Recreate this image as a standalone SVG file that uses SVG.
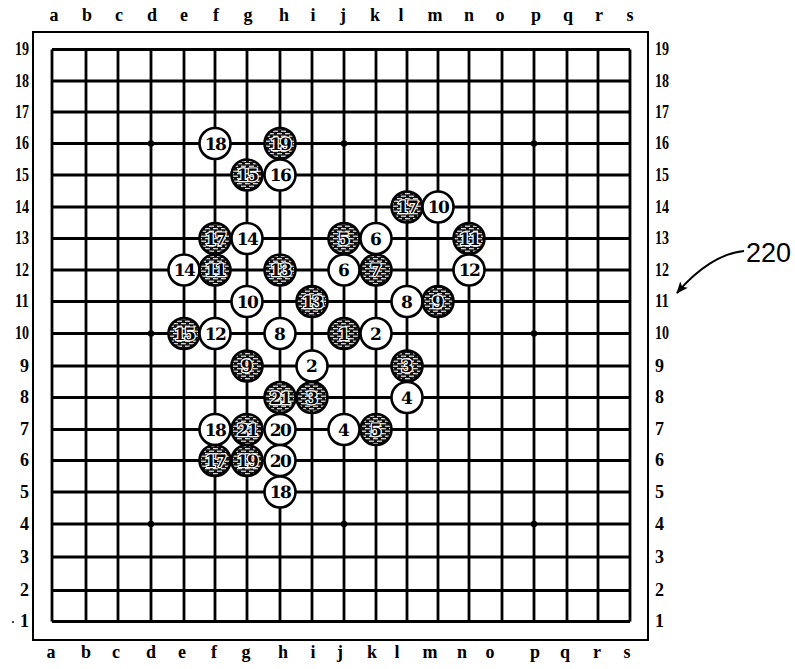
<svg xmlns="http://www.w3.org/2000/svg" width="795" height="669" viewBox="0 0 795 669">
<style>
.frame{fill:none;stroke:#000;stroke-width:2}
.grid line{stroke:#000;stroke-width:2.8}
.hoshi{fill:#000}
.col{font-family:"Liberation Serif",serif;font-weight:bold;font-size:18px;text-anchor:middle;fill:#000}
.rowl{font-family:"Liberation Serif",serif;font-weight:bold;font-size:18px;fill:#000}
.ws circle{fill:#fff;stroke:#000;stroke-width:2.6}
.bs circle{fill:url(#brick);stroke:#000;stroke-width:2.6}
.ws text,.bs text{font-family:"DejaVu Serif",serif;font-weight:bold;font-size:17px;text-anchor:middle;text-rendering:geometricPrecision}
.ws text{fill:#000}
.bs text{fill:#000;stroke:#fff;stroke-width:2.4;paint-order:stroke;stroke-linejoin:round;opacity:0.99}
.two{letter-spacing:-1.5px}
.ref{font-family:"Liberation Sans",sans-serif;font-size:27px;fill:#000}
.lead{fill:none;stroke:#000;stroke-width:2}
</style>
<defs>
<pattern id="brick" patternUnits="userSpaceOnUse" width="8" height="5">
<rect width="8" height="5" fill="#111"/>
<line x1="1" y1="1.2" x2="6" y2="1.2" stroke="#fff" stroke-width="1.1"/>
<line x1="5" y1="3.7" x2="8" y2="3.7" stroke="#fff" stroke-width="1.1"/>
<line x1="0" y1="3.7" x2="2" y2="3.7" stroke="#fff" stroke-width="1.1"/>
</pattern>
<marker id="ah" viewBox="0 0 12 10" refX="11" refY="5" markerWidth="12" markerHeight="10" markerUnits="userSpaceOnUse" orient="auto">
<path d="M0,0 L12,5 L0,10 L3,5 z" fill="#000"/>
</marker>
</defs>
<rect width="795" height="669" fill="#fff"/>
<g id="board">
<rect class="frame" x="33" y="32" width="615" height="608"/>
<g class="grid">
<line x1="52" y1="49.5" x2="52" y2="621.5"/>
<line x1="86" y1="49.5" x2="86" y2="621.5"/>
<line x1="118" y1="49.5" x2="118" y2="621.5"/>
<line x1="151" y1="49.5" x2="151" y2="621.5"/>
<line x1="184" y1="49.5" x2="184" y2="621.5"/>
<line x1="215" y1="49.5" x2="215" y2="621.5"/>
<line x1="247" y1="49.5" x2="247" y2="621.5"/>
<line x1="280" y1="49.5" x2="280" y2="621.5"/>
<line x1="312" y1="49.5" x2="312" y2="621.5"/>
<line x1="344" y1="49.5" x2="344" y2="621.5"/>
<line x1="376" y1="49.5" x2="376" y2="621.5"/>
<line x1="407" y1="49.5" x2="407" y2="621.5"/>
<line x1="438" y1="49.5" x2="438" y2="621.5"/>
<line x1="469" y1="49.5" x2="469" y2="621.5"/>
<line x1="502" y1="49.5" x2="502" y2="621.5"/>
<line x1="534" y1="49.5" x2="534" y2="621.5"/>
<line x1="567" y1="49.5" x2="567" y2="621.5"/>
<line x1="598" y1="49.5" x2="598" y2="621.5"/>
<line x1="630" y1="49.5" x2="630" y2="621.5"/>
<line x1="52" y1="49.5" x2="630" y2="49.5"/>
<line x1="52" y1="81" x2="630" y2="81"/>
<line x1="52" y1="112" x2="630" y2="112"/>
<line x1="52" y1="143.5" x2="630" y2="143.5"/>
<line x1="52" y1="175" x2="630" y2="175"/>
<line x1="52" y1="207" x2="630" y2="207"/>
<line x1="52" y1="238.5" x2="630" y2="238.5"/>
<line x1="52" y1="270" x2="630" y2="270"/>
<line x1="52" y1="301.5" x2="630" y2="301.5"/>
<line x1="52" y1="333.5" x2="630" y2="333.5"/>
<line x1="52" y1="366" x2="630" y2="366"/>
<line x1="52" y1="397.5" x2="630" y2="397.5"/>
<line x1="52" y1="429.5" x2="630" y2="429.5"/>
<line x1="52" y1="460.5" x2="630" y2="460.5"/>
<line x1="52" y1="492" x2="630" y2="492"/>
<line x1="52" y1="524" x2="630" y2="524"/>
<line x1="52" y1="557" x2="630" y2="557"/>
<line x1="52" y1="590.5" x2="630" y2="590.5"/>
<line x1="52" y1="621.5" x2="630" y2="621.5"/>
</g>
<g class="hoshi">
<circle cx="151" cy="143.5" r="3.2"/>
<circle cx="344" cy="143.5" r="3.2"/>
<circle cx="534" cy="143.5" r="3.2"/>
<circle cx="151" cy="333.5" r="3.2"/>
<circle cx="534" cy="333.5" r="3.2"/>
<circle cx="151" cy="524" r="3.2"/>
<circle cx="344" cy="524" r="3.2"/>
<circle cx="534" cy="524" r="3.2"/>
</g>
</g>
<g id="labels">
<g class="col">
<text x="54" y="21">a</text><text x="87" y="21">b</text><text x="119" y="21">c</text><text x="152" y="21">d</text><text x="184" y="21">e</text><text x="216" y="21">f</text><text x="248" y="21">g</text><text x="284" y="21">h</text><text x="313" y="21">i</text><text x="343" y="21">j</text><text x="375" y="21">k</text><text x="401" y="21">l</text><text x="435" y="21">m</text><text x="469" y="21">n</text><text x="500" y="21">o</text><text x="536" y="21">p</text><text x="568" y="21">q</text><text x="599" y="21">r</text><text x="630" y="21">s</text>
<text x="51" y="658">a</text><text x="86" y="658">b</text><text x="116" y="658">c</text><text x="151" y="658">d</text><text x="182" y="658">e</text><text x="214" y="658">f</text><text x="246" y="658">g</text><text x="283" y="658">h</text><text x="313" y="658">i</text><text x="340" y="658">j</text><text x="372" y="658">k</text><text x="397" y="658">l</text><text x="430" y="658">m</text><text x="462" y="658">n</text><text x="490" y="658">o</text><text x="535" y="658">p</text><text x="565" y="658">q</text><text x="597" y="658">r</text><text x="627" y="658">s</text>
</g>
<g class="rowl" text-anchor="end">
<text x="29" y="55" textLength="14" lengthAdjust="spacingAndGlyphs">19</text><text x="29" y="86.5" textLength="14" lengthAdjust="spacingAndGlyphs">18</text><text x="29" y="117.5" textLength="14" lengthAdjust="spacingAndGlyphs">17</text><text x="29" y="149" textLength="14" lengthAdjust="spacingAndGlyphs">16</text><text x="29" y="180.5" textLength="14" lengthAdjust="spacingAndGlyphs">15</text><text x="29" y="212.5" textLength="14" lengthAdjust="spacingAndGlyphs">14</text><text x="29" y="244" textLength="14" lengthAdjust="spacingAndGlyphs">13</text><text x="29" y="275.5" textLength="14" lengthAdjust="spacingAndGlyphs">12</text><text x="29" y="307" textLength="14" lengthAdjust="spacingAndGlyphs">11</text><text x="29" y="339" textLength="14" lengthAdjust="spacingAndGlyphs">10</text><text x="29" y="371.5">9</text><text x="29" y="403">8</text><text x="29" y="435">7</text><text x="29" y="466">6</text><text x="29" y="497.5">5</text><text x="29" y="529.5">4</text><text x="29" y="562.5">3</text><text x="29" y="596">2</text><text x="29" y="627">1</text>
</g>
<circle cx="13" cy="622" r="1" fill="#000"/>
<g class="rowl">
<text x="655" y="55" textLength="14" lengthAdjust="spacingAndGlyphs">19</text><text x="655" y="86.5" textLength="14" lengthAdjust="spacingAndGlyphs">18</text><text x="655" y="117.5" textLength="14" lengthAdjust="spacingAndGlyphs">17</text><text x="655" y="149" textLength="14" lengthAdjust="spacingAndGlyphs">16</text><text x="655" y="180.5" textLength="14" lengthAdjust="spacingAndGlyphs">15</text><text x="655" y="212.5" textLength="14" lengthAdjust="spacingAndGlyphs">14</text><text x="655" y="244" textLength="14" lengthAdjust="spacingAndGlyphs">13</text><text x="655" y="275.5" textLength="14" lengthAdjust="spacingAndGlyphs">12</text><text x="655" y="307" textLength="14" lengthAdjust="spacingAndGlyphs">11</text><text x="655" y="339" textLength="14" lengthAdjust="spacingAndGlyphs">10</text><text x="655" y="371.5">9</text><text x="655" y="403">8</text><text x="655" y="435">7</text><text x="655" y="466">6</text><text x="655" y="497.5">5</text><text x="655" y="529.5">4</text><text x="655" y="562.5">3</text><text x="655" y="596">2</text><text x="655" y="627">1</text>
</g>
<text class="ref" x="746" y="262">220</text>
</g>
<g id="connectors">
<path class="lead" d="M744,251 C722,253 698,268 677,293" marker-end="url(#ah)"/>
</g>
<g id="stones">
<g id="s-f16" class="ws"><circle cx="215" cy="143.5" r="15.5"/><text class="two" x="215" y="149.5">18</text></g>
<g id="s-h16" class="bs"><circle cx="280" cy="143.5" r="15.5"/><text class="two" x="280" y="149.5">19</text></g>
<g id="s-g15" class="bs"><circle cx="247" cy="175" r="15.5"/><text class="two" x="247" y="181">15</text></g>
<g id="s-h15" class="ws"><circle cx="280" cy="175" r="15.5"/><text class="two" x="280" y="181">16</text></g>
<g id="s-l14" class="bs"><circle cx="407" cy="207" r="15.5"/><text class="two" x="407" y="213">17</text></g>
<g id="s-m14" class="ws"><circle cx="438" cy="207" r="15.5"/><text class="two" x="438" y="213">10</text></g>
<g id="s-f13" class="bs"><circle cx="215" cy="238.5" r="15.5"/><text class="two" x="215" y="244.5">17</text></g>
<g id="s-g13" class="ws"><circle cx="247" cy="238.5" r="15.5"/><text class="two" x="247" y="244.5">14</text></g>
<g id="s-j13" class="bs"><circle cx="344" cy="238.5" r="15.5"/><text x="344" y="244.5">5</text></g>
<g id="s-k13" class="ws"><circle cx="376" cy="238.5" r="15.5"/><text x="376" y="244.5">6</text></g>
<g id="s-n13" class="bs"><circle cx="469" cy="238.5" r="15.5"/><text class="two" x="469" y="244.5">11</text></g>
<g id="s-e12" class="ws"><circle cx="184" cy="270" r="15.5"/><text class="two" x="184" y="276">14</text></g>
<g id="s-f12" class="bs"><circle cx="215" cy="270" r="15.5"/><text class="two" x="215" y="276">11</text></g>
<g id="s-h12" class="bs"><circle cx="280" cy="270" r="15.5"/><text class="two" x="280" y="276">13</text></g>
<g id="s-j12" class="ws"><circle cx="344" cy="270" r="15.5"/><text x="344" y="276">6</text></g>
<g id="s-k12" class="bs"><circle cx="376" cy="270" r="15.5"/><text x="376" y="276">7</text></g>
<g id="s-n12" class="ws"><circle cx="469" cy="270" r="15.5"/><text class="two" x="469" y="276">12</text></g>
<g id="s-g11" class="ws"><circle cx="247" cy="301.5" r="15.5"/><text class="two" x="247" y="307.5">10</text></g>
<g id="s-i11" class="bs"><circle cx="312" cy="301.5" r="15.5"/><text class="two" x="312" y="307.5">13</text></g>
<g id="s-l11" class="ws"><circle cx="407" cy="301.5" r="15.5"/><text x="407" y="307.5">8</text></g>
<g id="s-m11" class="bs"><circle cx="438" cy="301.5" r="15.5"/><text x="438" y="307.5">9</text></g>
<g id="s-e10" class="bs"><circle cx="184" cy="333.5" r="15.5"/><text class="two" x="184" y="339.5">15</text></g>
<g id="s-f10" class="ws"><circle cx="215" cy="333.5" r="15.5"/><text class="two" x="215" y="339.5">12</text></g>
<g id="s-h10" class="ws"><circle cx="280" cy="333.5" r="15.5"/><text x="280" y="339.5">8</text></g>
<g id="s-j10" class="bs"><circle cx="344" cy="333.5" r="15.5"/><text x="344" y="339.5">1</text></g>
<g id="s-k10" class="ws"><circle cx="376" cy="333.5" r="15.5"/><text x="376" y="339.5">2</text></g>
<g id="s-g9" class="bs"><circle cx="247" cy="366" r="15.5"/><text x="247" y="372">9</text></g>
<g id="s-i9" class="ws"><circle cx="312" cy="366" r="15.5"/><text x="312" y="372">2</text></g>
<g id="s-l9" class="bs"><circle cx="407" cy="366" r="15.5"/><text x="407" y="372">3</text></g>
<g id="s-h8" class="bs"><circle cx="280" cy="397.5" r="15.5"/><text class="two" x="280" y="403.5">21</text></g>
<g id="s-i8" class="bs"><circle cx="312" cy="397.5" r="15.5"/><text x="312" y="403.5">3</text></g>
<g id="s-l8" class="ws"><circle cx="407" cy="397.5" r="15.5"/><text x="407" y="403.5">4</text></g>
<g id="s-f7" class="ws"><circle cx="215" cy="429.5" r="15.5"/><text class="two" x="215" y="435.5">18</text></g>
<g id="s-g7" class="bs"><circle cx="247" cy="429.5" r="15.5"/><text class="two" x="247" y="435.5">21</text></g>
<g id="s-h7" class="ws"><circle cx="280" cy="429.5" r="15.5"/><text class="two" x="280" y="435.5">20</text></g>
<g id="s-j7" class="ws"><circle cx="344" cy="429.5" r="15.5"/><text x="344" y="435.5">4</text></g>
<g id="s-k7" class="bs"><circle cx="376" cy="429.5" r="15.5"/><text x="376" y="435.5">5</text></g>
<g id="s-f6" class="bs"><circle cx="215" cy="460.5" r="15.5"/><text class="two" x="215" y="466.5">17</text></g>
<g id="s-g6" class="bs"><circle cx="247" cy="460.5" r="15.5"/><text class="two" x="247" y="466.5">19</text></g>
<g id="s-h6" class="ws"><circle cx="280" cy="460.5" r="15.5"/><text class="two" x="280" y="466.5">20</text></g>
<g id="s-h5" class="ws"><circle cx="280" cy="492" r="15.5"/><text class="two" x="280" y="498">18</text></g>
</g>
</svg>
